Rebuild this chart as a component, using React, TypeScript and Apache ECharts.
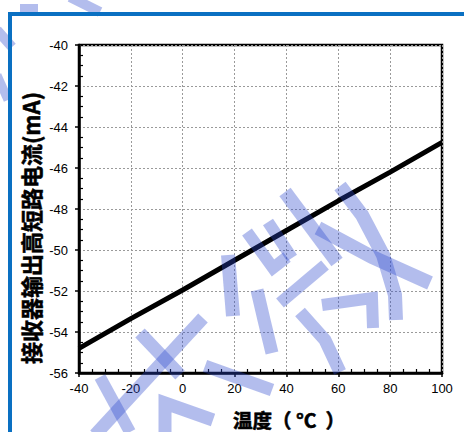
import React, { useEffect, useRef } from "react";
import * as echarts from "echarts";

// Data
const temperatures = [-40, -20, 0, 20, 40, 60, 80, 100];
const currents = [-54.8, -53.35, -51.95, -50.5, -49.05, -47.6, -46.2, -44.75];

const xMin = -40;
const xMax = 100;
const xInterval = 20;
const yMin = -56;
const yMax = -40;
const yInterval = 2;

const xAxisTitle = "温度（ °C  ）";
const yAxisTitle = "接收器输出高短路电流(mA)";

// Decorative watermark strokes (page pixels)
const watermarkStrokes: { pts: number[][]; w: number }[] = [
  { pts: [[20, 8], [38, 8]], w: 8 },
  { pts: [[70, -3], [100, 12]], w: 10 },
  { pts: [[-3, 30], [12, 47]], w: 10 },
  { pts: [[-3, 75], [8, 100]], w: 9 },
  { pts: [[203, 318], [95, 435]], w: 13 },
  { pts: [[140, 333], [180, 375]], w: 13 },
  { pts: [[100, 377], [130, 432]], w: 12 },
  { pts: [[205, 366], [272, 390]], w: 13 },
  { pts: [[165, 436], [165, 403], [213, 420]], w: 13 },
  { pts: [[228, 255], [233, 316]], w: 14 },
  { pts: [[257, 290], [264, 320], [272, 353]], w: 13 },
  { pts: [[285, 192], [337, 262]], w: 14 },
  { pts: [[340, 186], [362, 215], [383, 255], [395, 295], [396, 320]], w: 14 },
  { pts: [[318, 228], [372, 257], [430, 283]], w: 14 },
  { pts: [[247, 232], [273, 268], [287, 257]], w: 12 },
  { pts: [[268, 222], [292, 258]], w: 12 },
  { pts: [[280, 303], [325, 265]], w: 12 },
  { pts: [[300, 312], [325, 340], [340, 372]], w: 13 },
  { pts: [[322, 305], [372, 298], [373, 328]], w: 12 },
];

const labelFont = "'Liberation Sans', Arial, sans-serif";
const titleFont = "'Noto Sans CJK SC', 'Liberation Sans', sans-serif";

export default function App() {
  const ref = useRef<HTMLDivElement>(null);

  useEffect(() => {
    if (!ref.current) return;
    const chart = echarts.init(ref.current, null, { renderer: "svg" });

    const baseX = {
      type: "value" as const,
      min: xMin,
      max: xMax,
      interval: xInterval,
      position: "bottom" as const,
    };
    const baseY = {
      type: "value" as const,
      min: yMin,
      max: yMax,
      interval: yInterval,
      position: "left" as const,
    };

    const watermark = watermarkStrokes.map((s) => ({
      type: "polyline",
      z: 100,
      silent: true,
      shape: { points: s.pts },
      style: {
        stroke: "rgba(44,72,205,0.36)",
        lineWidth: s.w,
        fill: null,
        lineCap: "butt",
        lineJoin: "miter",
      },
    }));

    chart.setOption({
      animation: false,
      backgroundColor: "#fff",
      grid: {
        left: 79,
        right: 22,
        top: 45,
        bottom: 59,
        show: true,
        borderColor: "#000",
        borderWidth: 2.5,
        backgroundColor: "transparent",
      },
      xAxis: [
        {
          ...baseX,
          axisLine: { show: true, onZero: false, lineStyle: { color: "#000", width: 2.5 } },
          axisTick: { show: true, inside: false, length: 4, lineStyle: { color: "#000", width: 1.5 } },
          axisLabel: { color: "#000", fontSize: 13, fontFamily: labelFont, margin: 9 },
          splitLine: { show: true, lineStyle: { color: "#9a9a9a", width: 1, type: [2, 2] } },
          minorTick: { show: false },
        },
        {
          ...baseX,
          axisLine: { show: false, onZero: false },
          axisTick: { show: false, inside: true },
          axisLabel: { show: false },
          splitLine: { show: false },
          minorTick: { show: true, splitNumber: 4, length: 4, lineStyle: { color: "#000", width: 1.2 } },
        },
      ],
      yAxis: [
        {
          ...baseY,
          axisLine: { show: true, onZero: false, lineStyle: { color: "#000", width: 2.5 } },
          axisTick: { show: true, inside: false, length: 4, lineStyle: { color: "#000", width: 1.5 } },
          axisLabel: { color: "#000", fontSize: 13, fontFamily: labelFont, margin: 11 },
          splitLine: { show: true, lineStyle: { color: "#9a9a9a", width: 1, type: [2, 2] } },
          minorTick: { show: false },
        },
        {
          ...baseY,
          axisLine: { show: false, onZero: false },
          axisTick: { show: false, inside: true },
          axisLabel: { show: false },
          splitLine: { show: false },
          minorTick: { show: true, splitNumber: 4, length: 4, lineStyle: { color: "#000", width: 1.2 } },
        },
      ],
      series: [
        {
          type: "line",
          xAxisIndex: 0,
          yAxisIndex: 0,
          data: temperatures.map((t, i) => [t, currents[i]]),
          symbol: "none",
          lineStyle: { color: "#000", width: 5 },
          z: 5,
        },
      ],
      graphic: [
        {
          type: "text",
          x: 30,
          y: 228,
          rotation: Math.PI / 2,
          style: {
            text: yAxisTitle,
            font: `bold 22px ${titleFont}`,
            fill: "#000",
            stroke: "#000",
            lineWidth: 0.5,
            textAlign: "center",
            textVerticalAlign: "middle",
          },
        },
        {
          type: "text",
          x: 233,
          y: 419,
          style: {
            text: xAxisTitle,
            font: `bold 19.5px ${titleFont}`,
            fill: "#000",
            stroke: "#000",
            lineWidth: 0.6,
            textAlign: "left",
            textVerticalAlign: "middle",
          },
        },
        ...watermark,
        {
          type: "rect",
          z: 110,
          silent: true,
          shape: { x: 10, y: 14, width: 470, height: 440 },
          style: { fill: null, stroke: "#0a70c2", lineWidth: 4 },
        },
      ],
    });

    return () => chart.dispose();
  }, []);

  return (
    <div
      ref={ref}
      style={{ position: "absolute", left: 0, top: 0, width: 464, height: 432, background: "#fff" }}
    />
  );
}
